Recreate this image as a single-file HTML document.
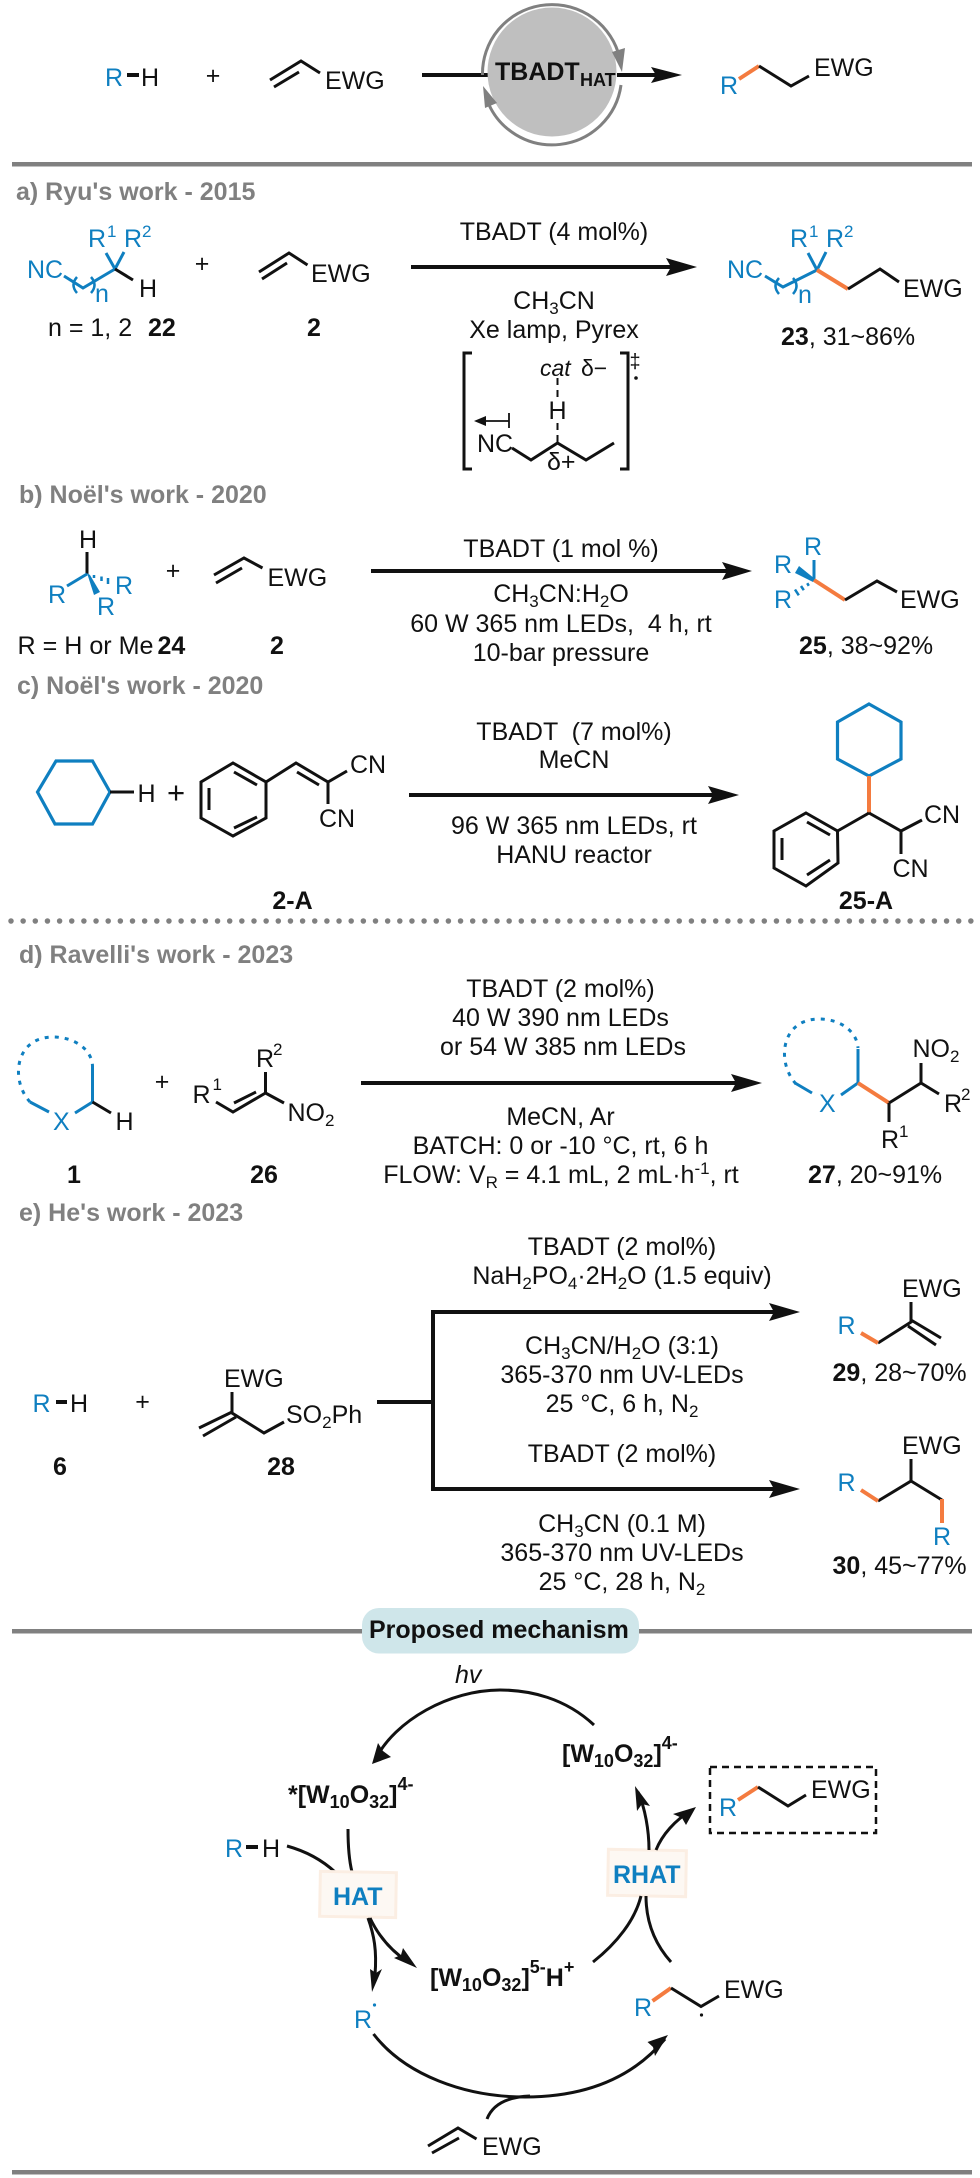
<!DOCTYPE html>
<html><head><meta charset="utf-8"><style>
html,body{margin:0;padding:0;background:#fff}
svg{display:block}
text{font-family:"Liberation Sans",Arial,sans-serif;font-size:25px;fill:#111}
.b{font-weight:bold}
.g{font-weight:bold;fill:#808080}
.c{text-anchor:middle}
.bl{fill:#0f7fc0}
.i{font-style:italic}
.l{fill:none;stroke:#111;stroke-width:3}
.h{fill:none;stroke:#111;stroke-width:4}
.u{fill:none;stroke:#0f7fc0;stroke-width:3}
.o{fill:none;stroke:#f47b3f;stroke-width:4}
.cv{fill:none;stroke:#111;stroke-width:3}
.rule{fill:#808080}
.s{font-size:17px}
.m{font-size:18px}
</style></head><body>
<svg width="980" height="2178" viewBox="0 0 980 2178" xmlns="http://www.w3.org/2000/svg">
<rect width="980" height="2178" fill="#fff"/>

<!-- TOP -->
<text x="105" y="86" class="bl">R</text><rect x="127" y="73" width="12" height="4" fill="#111"/><text x="141" y="86">H</text>
<text x="213" y="84" class="c">+</text>
<path class="l" d="M270 80L301 61L320 73M274 87L299 72"/>
<text x="325" y="89">EWG</text>
<path class="h" d="M422 75H488M617 75H656"/>
<polygon points="651,67 682,75 651,83 656,75" fill="#111"/>
<circle cx="552" cy="72" r="64.500" fill="#bfbfbf"/>
<path d="M482.500 75A69.500 69 0 0 1 618 52" fill="none" stroke="#808080" stroke-width="3"/>
<path d="M621 85A69.500 69 0 0 1 487 100" fill="none" stroke="#808080" stroke-width="3"/>
<polygon points="622,72 612,52 625,48" fill="#808080"/>
<polygon points="483,86 485,108 497,103" fill="#808080"/>
<text x="495" y="80" class="b">TBADT</text><text x="580" y="86" class="b" style="font-size:18px">HAT</text>
<text x="720" y="94" class="bl">R</text>
<path class="o" d="M739 79L759 66"/><path class="l" d="M759 66L791 86L809 76"/>
<text x="814" y="76">EWG</text>
<rect class="rule" x="12" y="162" width="960" height="4.500"/>

<!-- a -->
<text x="16" y="200" class="g">a) Ryu's work - 2015</text>
<text x="27" y="278" class="bl">NC</text>
<text x="88" y="247" class="bl">R</text><text x="107" y="237" class="bl s">1</text>
<text x="124" y="247" class="bl">R</text><text x="142" y="237" class="bl s">2</text>
<path class="u" d="M64 276L83 288L115 269M115 269L106 253M115 269L124 252"/>
<path class="u" d="M77 277Q70 285 77 293M91 277Q98 285 91 293" style="stroke-width:2.500"/>
<path class="l" d="M115 269L133 280"/>
<text x="139" y="297">H</text>
<text x="95" y="302" class="bl">n</text>
<text x="48" y="336">n = 1, 2</text><text x="148" y="336" class="b">22</text>
<text x="202" y="272" class="c">+</text>
<path class="l" d="M259 272L289 253L307.500 265M262 279L287 263"/>
<text x="311" y="282">EWG</text>
<text x="307" y="336" class="b">2</text>
<path class="h" d="M411 267H672"/><polygon points="666,258 697,267 666,276 671,267" fill="#111"/>
<text x="554" y="240" class="c">TBADT (4 mol%)</text>
<text x="554" y="309" class="c">CH<tspan class="s" dy="5">3</tspan><tspan dy="-5">CN</tspan></text>
<text x="554" y="338" class="c">Xe lamp, Pyrex</text>
<path class="l" d="M472 353H464V469H472M620 353H628V469H620"/>
<text x="635" y="368" class="c" style="font-size:20px">‡</text>
<circle cx="636" cy="378" r="1.800" fill="#111"/>
<text x="540" y="376" class="i" style="font-size:23px">cat</text>
<text x="581" y="376" style="font-size:23px">δ−</text>
<path class="l" d="M557.500 378V402M557.500 423V443" stroke-dasharray="7 5" style="stroke-width:2"/>
<text x="557.500" y="419" class="c">H</text>
<text x="477" y="452">NC</text>
<path class="l" d="M512 448L531 460L557.500 443L586 460L614 443"/>
<text x="547" y="470">δ+</text>
<path class="l" d="M509 421H480M509 413V428" style="stroke-width:1.800"/>
<polygon points="474,421 486,416 486,426" fill="#111"/>
<text x="727" y="278" class="bl">NC</text>
<text x="790" y="247" class="bl">R</text><text x="809" y="237" class="bl s">1</text>
<text x="826" y="247" class="bl">R</text><text x="844" y="237" class="bl s">2</text>
<path class="u" d="M765 276L783 287L817 270M817 270L808 253M817 270L826 252"/>
<path class="u" d="M779 278Q772 286 779 294M793 278Q800 286 793 294" style="stroke-width:2.500"/>
<path class="o" d="M817 270L848 289"/><path class="l" d="M848 289L880 269L899 282"/>
<text x="903" y="297">EWG</text>
<text x="798" y="303" class="bl">n</text>
<text x="781" y="345"><tspan class="b">23</tspan>, 31~86%</text>

<!-- b -->
<text x="19" y="503" class="g">b) Noël's work - 2020</text>
<text x="79" y="548">H</text>
<path class="l" d="M87 552V574"/>
<path class="u" d="M87 574L67 586"/>
<polygon points="87,573 90,575 100,592 94,595" fill="#0f7fc0"/>
<path class="u" d="M94 575V578M101.500 576.500V581M108 578V584" style="stroke-width:2.500"/>
<text x="48" y="603" class="bl">R</text>
<text x="115" y="594" class="bl">R</text>
<text x="97" y="615" class="bl">R</text>
<text x="17.500" y="654" textLength="136" lengthAdjust="spacingAndGlyphs">R = H or Me</text><text x="157.500" y="654" class="b">24</text>
<text x="173" y="579" class="c">+</text>
<path class="l" d="M214 575L244 558L262.500 568M216 583L242 568"/>
<text x="267.500" y="586">EWG</text>
<text x="270" y="654" class="b">2</text>
<path class="h" d="M371 571H727"/><polygon points="722,562 752,571 722,580 727,571" fill="#111"/>
<text x="561" y="557" class="c">TBADT (1 mol %)</text>
<text x="561" y="602" class="c">CH<tspan class="s" dy="5">3</tspan><tspan dy="-5">CN:H</tspan><tspan class="s" dy="5">2</tspan><tspan dy="-5">O</tspan></text>
<text x="561" y="632" class="c" xml:space="preserve">60 W 365 nm LEDs,  4 h, rt</text>
<text x="561" y="661" class="c">10-bar pressure</text>
<text x="804" y="555" class="bl">R</text>
<path class="u" d="M814 560V580"/>
<polygon points="815,579 813,582 795,573 799,566" fill="#0f7fc0"/>
<path class="u" d="M807.200 583.200L808.800 585.800M801 586L803.800 590.200M795 589.500L798.800 595.300" style="stroke-width:2.500"/>
<text x="774" y="573" class="bl">R</text>
<text x="774" y="608" class="bl">R</text>
<path class="o" d="M814 580L845 600"/><path class="l" d="M845 600L877 581L897 592"/>
<text x="900" y="608">EWG</text>
<text x="799" y="654"><tspan class="b">25</tspan>, 38~92%</text>

<!-- c -->
<text x="17" y="694" class="g">c) Noël's work - 2020</text>
<polygon class="u" style="stroke-width:3.200" points="56,761 92.500,761 110,792 92.500,824 55,824 37.500,792"/>
<path class="h" style="stroke-width:3" d="M110 792H134"/>
<text x="137.500" y="802">H</text>
<text x="176" y="803" class="c" style="font-size:31px">+</text>
<polygon class="l" points="233,763 266,782 266,818 233,836 201,818 201,782"/>
<path class="l" d="M234 772L257 785M209 788V810M257 817L234 828"/>
<path class="l" d="M266 782L296 763L328 782L347 771M297 772L319 785M328 782V804"/>
<text x="350" y="773">CN</text><text x="319" y="827">CN</text>
<path class="h" d="M409 795H713"/><polygon points="708,786 739,795 708,804 713,795" fill="#111"/>
<text x="574" y="740" class="c" xml:space="preserve">TBADT  (7 mol%)</text>
<text x="574" y="768" class="c">MeCN</text>
<text x="574" y="834" class="c">96 W 365 nm LEDs, rt</text>
<text x="574" y="863" class="c">HANU reactor</text>
<text x="292.500" y="909" class="c b">2-A</text>
<text x="866" y="909" class="c b">25-A</text>
<polygon class="u" style="stroke-width:3.200" points="869,704 901,722 901,759 869,776 837.500,759 837.500,722"/>
<path class="o" d="M869 776V813"/>
<path class="l" d="M869 813L837.500 831M869 813L901 831L922 820M901 831V854"/>
<text x="924" y="823">CN</text><text x="892.500" y="877">CN</text>
<polygon class="l" points="806,813 837.500,831 838,863 806,886 774,868 774,831"/>
<path class="l" d="M807 822L830 835M782 838V860M830 860L807 875"/>

<!-- dots -->
<path d="M11 921H975" fill="none" stroke="#808080" stroke-width="5.500" stroke-linecap="round" stroke-dasharray="0 12.150"/>

<!-- d -->
<text x="19" y="963" class="g">d) Ravelli's work - 2023</text>
<path class="u" stroke-dasharray="4 6" d="M30 1102C10 1080 15 1037 53 1037C75 1037 92 1050 92.500 1066"/>
<path class="u" d="M92.500 1066V1102L75 1113M30 1102L49 1112"/>
<path class="l" d="M92.500 1102L111 1113"/>
<text x="115.500" y="1130">H</text>
<text x="53" y="1130" class="bl">X</text>
<text x="162" y="1090" class="c">+</text>
<text x="192.500" y="1103">R</text><text x="212.500" y="1090" class="s">1</text>
<path class="l" d="M216 1102L233 1112L265.500 1093M234 1103L256 1092M265.500 1093V1072M265.500 1093L284 1103"/>
<text x="256" y="1067">R</text><text x="273" y="1055" class="s">2</text>
<text x="287.500" y="1121">NO<tspan class="s" dy="5">2</tspan></text>
<text x="74" y="1183" class="c b">1</text><text x="264" y="1183" class="c b">26</text>
<path class="h" d="M361 1083H736"/><polygon points="731,1074 762,1083 731,1092 736,1083" fill="#111"/>
<text x="560.500" y="997" class="c">TBADT (2 mol%)</text>
<text x="560.500" y="1026" class="c">40 W 390 nm LEDs</text>
<text x="563" y="1055" class="c">or 54 W 385 nm LEDs</text>
<text x="560.500" y="1125" class="c">MeCN, Ar</text>
<text x="560.500" y="1154" class="c">BATCH: 0 or -10 °C, rt, 6 h</text>
<text x="561" y="1183" class="c">FLOW: V<tspan class="s" dy="5">R</tspan><tspan dy="-5"> = 4.1 mL, 2 mL·h</tspan><tspan class="s" dy="-9">-1</tspan><tspan dy="9">, rt</tspan></text>
<path class="u" stroke-dasharray="4 6" d="M796 1084C776 1062 781 1019 819 1019C841 1019 857 1032 858 1048"/>
<path class="u" d="M858 1049V1083L841 1095M795 1083L812 1093"/>
<text x="819" y="1112" class="bl">X</text>
<path class="o" d="M858 1083L889 1103"/>
<path class="l" d="M889 1103L921 1083L939 1094M921 1083V1063M889 1103V1122"/>
<text x="912.500" y="1057">NO<tspan class="s" dy="5">2</tspan></text>
<text x="944" y="1112">R</text><text x="961" y="1100" class="s">2</text>
<text x="881" y="1148">R</text><text x="899" y="1137" class="s">1</text>
<text x="808" y="1183"><tspan class="b">27</tspan>, 20~91%</text>

<!-- e -->
<text x="19" y="1221" class="g">e) He's work - 2023</text>
<text x="32.500" y="1412" class="bl">R</text><rect x="56" y="1400" width="11" height="4" fill="#111"/><text x="70" y="1412">H</text>
<text x="142.500" y="1410" class="c">+</text>
<text x="224" y="1387">EWG</text>
<path class="l" d="M232 1392V1413L264 1433L284 1422M199 1428L232 1412M203 1436L236 1417"/>
<text x="286" y="1423">SO<tspan class="s" dy="5">2</tspan><tspan dy="-5">Ph</tspan></text>
<text x="60" y="1475" class="c b">6</text><text x="281" y="1475" class="c b">28</text>
<path class="h" d="M377 1402H433M433 1310V1491M433 1312H775M433 1489H775"/>
<polygon points="769,1303 800,1312 769,1321 774,1312" fill="#111"/>
<polygon points="769,1480 800,1489 769,1498 774,1489" fill="#111"/>
<text x="622" y="1255" class="c">TBADT (2 mol%)</text>
<text x="622" y="1284" class="c">NaH<tspan class="s" dy="5">2</tspan><tspan dy="-5">PO</tspan><tspan class="s" dy="5">4</tspan><tspan dy="-5">·2H</tspan><tspan class="s" dy="5">2</tspan><tspan dy="-5">O (1.5 equiv)</tspan></text>
<text x="622" y="1354" class="c">CH<tspan class="s" dy="5">3</tspan><tspan dy="-5">CN/H</tspan><tspan class="s" dy="5">2</tspan><tspan dy="-5">O (3:1)</tspan></text>
<text x="622" y="1383" class="c">365-370 nm UV-LEDs</text>
<text x="622" y="1412" class="c">25 °C, 6 h, N<tspan class="s" dy="5">2</tspan></text>
<text x="622" y="1462" class="c">TBADT (2 mol%)</text>
<text x="622" y="1532" class="c">CH<tspan class="s" dy="5">3</tspan><tspan dy="-5">CN (0.1 M)</tspan></text>
<text x="622" y="1561" class="c">365-370 nm UV-LEDs</text>
<text x="622" y="1590" class="c">25 °C, 28 h, N<tspan class="s" dy="5">2</tspan></text>
<text x="902" y="1297">EWG</text>
<path class="l" d="M911 1302V1322L878 1343M911 1320L941 1338M908 1326L936 1345"/>
<text x="837.500" y="1334" class="bl">R</text>
<path class="o" d="M861 1333L878 1343"/>
<text x="832.500" y="1381"><tspan class="b">29</tspan>, 28~70%</text>
<text x="902" y="1454">EWG</text>
<path class="l" d="M911 1459V1481L878 1501M911 1481L942 1500"/>
<text x="837.500" y="1491" class="bl">R</text>
<path class="o" d="M861 1490L878 1501M942 1499V1523"/>
<text x="933" y="1545" class="bl">R</text>
<text x="832.500" y="1574"><tspan class="b">30</tspan>, 45~77%</text>

<!-- mechanism -->
<rect class="rule" x="12" y="1629" width="960" height="4.500"/>
<rect x="362" y="1608" width="277" height="45.500" rx="17" fill="#cfe6ea"/>
<text x="369" y="1638" class="b">Proposed mechanism</text>
<text x="455" y="1683" class="i">hv</text>
<path class="cv" d="M594 1725C565 1698 530 1690 500 1690C450 1690 395 1720 375 1760"/>
<polygon points="372,1764 378,1743 383,1751 391,1757" fill="#111"/>
<text x="562" y="1762" class="b">[W<tspan class="m" dy="5">10</tspan><tspan dy="-5">O</tspan><tspan class="m" dy="5">32</tspan><tspan dy="-5">]</tspan><tspan class="m" dy="-13">4-</tspan></text>
<text x="288" y="1803" class="b">*[W<tspan class="m" dy="5">10</tspan><tspan dy="-5">O</tspan><tspan class="m" dy="5">32</tspan><tspan dy="-5">]</tspan><tspan class="m" dy="-13">4-</tspan></text>
<text x="225" y="1857" class="bl">R</text><rect x="246" y="1845" width="12" height="4" fill="#111"/><text x="262" y="1857">H</text>
<path class="cv" d="M287 1846C305 1851 322 1860 335 1872"/>
<path class="cv" d="M348 1829C348 1845 349 1860 352 1872"/>
<rect x="320" y="1872" width="76" height="45" fill="#fdf8f3" stroke="#fbeee3" stroke-width="3" transform="rotate(1 358 1895)"/>
<text x="333" y="1905" class="b bl">HAT</text>
<rect x="608" y="1850" width="78" height="46" fill="#fdf8f3" stroke="#fbeee3" stroke-width="3" transform="rotate(1 647 1873)"/>
<text x="613" y="1883" class="b bl">RHAT</text>
<path class="cv" d="M368 1918C374 1935 377 1950 375 1975"/>
<polygon points="372,1992 370,1969 376,1973 382,1969" fill="#111"/>
<path class="cv" d="M370 1918C378 1935 390 1950 408 1962"/>
<polygon points="417,1968 394,1958 401,1955 403,1948" fill="#111"/>
<text x="430" y="1986" class="b">[W<tspan class="m" dy="5">10</tspan><tspan dy="-5">O</tspan><tspan class="m" dy="5">32</tspan><tspan dy="-5">]</tspan><tspan class="m" dy="-13">5-</tspan><tspan dy="13">H</tspan><tspan class="m" dy="-13">+</tspan></text>
<text x="354" y="2028" class="bl">R</text><circle cx="374.500" cy="2005" r="1.600" fill="#0f7fc0"/>
<path class="cv" d="M373.500 2034C405 2075 465 2097 525 2097C590 2097 635 2075 665 2039"/>
<polygon points="668,2035 655,2056 653,2047 647.500,2042" fill="#111"/>
<path class="cv" d="M487 2119C492 2106 505 2097 530 2096"/>
<path class="l" d="M428 2146L458 2128L476.500 2139M432 2153L459 2138"/>
<text x="482" y="2155">EWG</text>
<text x="634" y="2016" class="bl">R</text>
<path class="o" d="M652.500 2001L671 1988"/><path class="l" d="M671 1988L701 2006.500L719 1996"/>
<circle cx="701.500" cy="2015" r="1.600" fill="#111"/>
<text x="724" y="1998">EWG</text>
<path class="cv" d="M593 1962C617 1943 635 1920 641 1896"/>
<path class="cv" d="M671 1962C654 1943 646 1920 646 1896"/>
<path class="cv" d="M649 1850C649 1830 645 1808 638 1792"/>
<polygon points="635,1786 650,1806 642,1804 637,1811" fill="#111"/>
<path class="cv" d="M656 1850C662 1835 675 1820 692 1810"/>
<polygon points="696,1807 686,1825 682,1818 673,1814" fill="#111"/>
<rect x="710" y="1767" width="166" height="66" fill="none" stroke="#111" stroke-width="2.500" stroke-dasharray="7 5"/>
<text x="719" y="1816" class="bl">R</text>
<path class="o" d="M738 1800L758 1787"/><path class="l" d="M758 1787L788 1806L806 1795"/>
<text x="811" y="1798">EWG</text>
<rect class="rule" x="12" y="2170" width="960" height="4.500"/>
</svg>
</body></html>
